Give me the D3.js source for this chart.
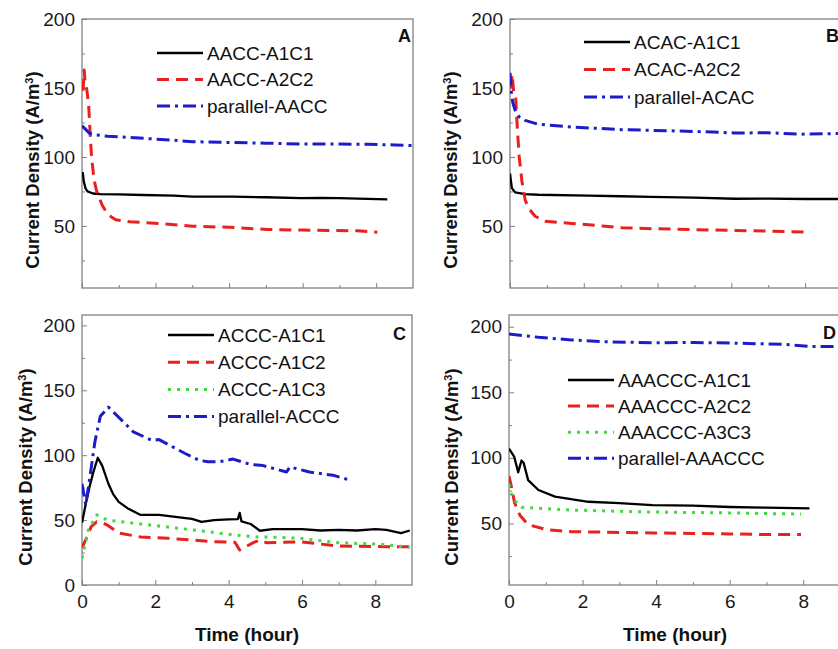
<!DOCTYPE html>
<html>
<head>
<meta charset="utf-8">
<script src="https://cdn.jsdelivr.net/npm/d3@7"></script>
<style>
  html, body { margin: 0; padding: 0; background: #fff; }
  svg { display: block; font-family: "Liberation Sans", Arial, sans-serif; }
</style>
</head>
<body>
<svg id="chart" width="838" height="649"></svg>
<script>
// ---------------- DATA (time in hours, current density in A/m^3) ----------------
const xTicksMajor = [0, 2, 4, 6, 8];
const xTicksMinor = [1, 3, 5, 7, 9];
const yTicksMajorTop = [50, 100, 150, 200];
const yTicksMajorC = [0, 50, 100, 150, 200];
const yTicksMinor = [25, 75, 125, 175];

// Panel A
const panelALabels = ["AACC-A1C1", "AACC-A2C2", "parallel-AACC"];
const aacc_A1C1 = [[0.02,89],[0.05,82],[0.1,77],[0.15,75],[0.3,73.5],[0.5,73],[1,72.8],[1.65,72.4],[2.5,72],[3,71.3],[4.1,71.2],[5,70.8],[5.95,70.1],[6.5,70.4],[7,70.1],[7.5,69.8],[8.3,69.3]];
const aacc_A2C2 = [[0.03,148],[0.06,163],[0.09,152],[0.13,149],[0.18,138],[0.22,118],[0.26,100],[0.33,83],[0.4,75],[0.47,70.5],[0.55,65],[0.65,60.5],[0.8,56.5],[0.92,54.5],[1.3,53],[2.1,51.8],[3,49.8],[4,49],[5.05,47.4],[6,47],[6.86,46.7],[7.5,46.5],[8.03,45.5]];
const aacc_par = [[0,122.5],[0.1,120],[0.2,117.2],[0.38,116],[0.7,115],[1.2,114.3],[2.37,112.3],[3,111.1],[4.13,110.4],[5,110],[5.95,109.4],[7,109.3],[7.76,109.2],[8.5,108.7],[9,108.2]];

// Panel B
const panelBLabels = ["ACAC-A1C1", "ACAC-A2C2", "parallel-ACAC"];
const acac_A1C1 = [[0,88],[0.05,77.4],[0.14,74.3],[0.41,73.1],[0.77,72.6],[2.12,71.9],[3,71.5],[3.83,71],[5,70.5],[6.09,69.7],[7,69.8],[8,69.5],[9,69.5]];
const acac_A2C2 = [[0.02,150],[0.06,160],[0.1,147],[0.15,145],[0.2,120],[0.25,100],[0.32,83],[0.41,69],[0.5,63],[0.68,57],[0.95,53.4],[1.67,51.8],[2.5,50],[3.03,48.7],[3.83,48],[5,47.3],[6.09,46.7],[7,46.3],[8.03,45.5]];
const acac_par = [[0,161],[0.02,155],[0.04,145],[0.08,139],[0.15,133],[0.25,129],[0.41,126.5],[0.77,123.7],[1.67,121.7],[3.03,119.8],[3.83,119.3],[5,118.5],[6.09,117.4],[7,117.5],[7.89,116.5],[8.89,117],[9,117]];

// Panel C
const panelCLabels = ["ACCC-A1C1", "ACCC-A1C2", "ACCC-A1C3", "parallel-ACCC"];
const accc_A1C1 = [[0,48],[0.1,62],[0.2,75],[0.3,86],[0.43,98],[0.55,92],[0.72,78],[0.85,70],[1.0,64],[1.25,59],[1.6,54],[2.1,54],[2.55,52.5],[3,51],[3.26,48.7],[3.6,50],[4,50.5],[4.25,50.8],[4.3,55.6],[4.35,49],[4.6,47],[4.85,41.8],[5.2,43],[6,43],[6.5,42],[7,42.5],[7.5,42],[8,43],[8.3,42.5],[8.7,40],[8.94,42]];
const accc_A1C2 = [[0,28.5],[0.15,38],[0.25,45],[0.4,48.7],[0.55,48],[0.7,46],[1,40],[1.6,37],[2.35,36],[3,34.6],[3.6,33.3],[4.17,33],[4.3,27],[4.5,30],[4.7,33],[4.85,34.6],[5.03,32.6],[5.94,33.3],[7,30],[8.3,29.5],[8.94,29.5]];
const accc_A1C3 = [[0,20.7],[0.17,42],[0.4,54],[0.7,50],[1.6,47],[2.55,44],[3.45,41],[4.17,38.5],[4.8,37],[5.03,37],[5.94,36],[7,32.5],[8.1,31.5],[8.94,29]];
const accc_par = [[0,78],[0.05,70],[0.1,62],[0.2,80],[0.35,110],[0.5,130],[0.72,137],[1.08,127],[1.4,118],[1.9,111.5],[2.1,112],[2.8,101.5],[3.2,96],[3.44,95],[3.76,95],[4.12,97],[4.58,93],[4.94,92],[5.58,87],[5.67,91],[6.2,87],[6.84,84.6],[7.3,80.8]];

// Panel D
const panelDLabels = ["AAACCC-A1C1", "AAACCC-A2C2", "AAACCC-A3C3", "parallel-AAACCC"];
const aaaccc_A1C1 = [[0,107],[0.14,101],[0.25,89],[0.34,98],[0.4,96],[0.52,83],[0.8,75.5],[1.25,70.4],[2.16,66.5],[3,65.5],[3.9,64],[5,63.5],[6,62.5],[7,62],[8.17,61.5]];
const aaaccc_A2C2 = [[0,86],[0.05,80],[0.15,66],[0.3,56],[0.52,49],[1.06,45],[1.7,43.7],[2.6,43.3],[3.9,42.7],[5,42.3],[6,42],[7,41.5],[7.94,41.5]];
const aaaccc_A3C3 = [[0,80],[0.1,69],[0.34,62.3],[0.8,61.5],[1.7,60.2],[3,59.2],[3.9,58.7],[5,58.3],[6,58],[7,57.5],[7.94,57.2]];
const aaaccc_par = [[0,194.5],[0.8,192],[1.7,190],[2.6,188.6],[3.9,187.8],[5,188],[5.68,187.8],[6.5,187.3],[7.5,186.6],[8.2,185],[9,185]];

// ---------------- STYLES ----------------
const styles = {
  black: { color: "#000000", width: 2.3, dash: null },
  red:   { color: "#e8211e", width: 3, dash: "12,7" },
  green: { color: "#3ddc3d", width: 3, dash: "3,6" },
  blue:  { color: "#1c1cc8", width: 3, dash: "13,5,3,5" }
};

const panels = [
  { id: "A", letter: "A", x0: 82, x1: 413, y0: 19, y1: 288, yDom: [5, 200], yMajor: yTicksMajorTop, xLabels: false,
    series: [[aacc_A1C1, "black"], [aacc_A2C2, "red"], [aacc_par, "blue"]], labels: panelALabels,
    legX: 157, legY: 53, legStep: 26.5, letterX: 398, letterY: 42, titleX: 32, titleY: 170 },
  { id: "B", letter: "B", x0: 510, x1: 842, y0: 19, y1: 288, yDom: [5, 200], yMajor: yTicksMajorTop, xLabels: false,
    series: [[acac_A1C1, "black"], [acac_A2C2, "red"], [acac_par, "blue"]], labels: panelBLabels,
    legX: 584, legY: 42, legStep: 27.5, letterX: 826, letterY: 42, titleX: 450, titleY: 170 },
  { id: "C", letter: "C", x0: 82, x1: 412, y0: 315, y1: 585, yDom: [0, 208], yMajor: yTicksMajorC, xLabels: true,
    series: [[accc_A1C1, "black"], [accc_A1C2, "red"], [accc_A1C3, "green"], [accc_par, "blue"]], labels: panelCLabels,
    legX: 168, legY: 335, legStep: 27.2, letterX: 393, letterY: 340, titleX: 25, titleY: 467, timeX: 247 },
  { id: "D", letter: "D", x0: 509, x1: 840, y0: 315, y1: 585, yDom: [3, 209], yMajor: yTicksMajorTop, xLabels: true,
    series: [[aaaccc_A1C1, "black"], [aaaccc_A2C2, "red"], [aaaccc_A3C3, "green"], [aaaccc_par, "blue"]], labels: panelDLabels,
    legX: 568, legY: 380, legStep: 26.1, letterX: 823, letterY: 339, titleX: 451, titleY: 467, timeX: 675 }
];

const svg = d3.select("#chart");
const defs = svg.append("defs");
const frameColor = "#808080";
const font = "19px";

panels.forEach(p => {
  const x = d3.scaleLinear().domain([0, 9]).range([p.x0, p.x1]);
  const y = d3.scaleLinear().domain(p.yDom).range([p.y1, p.y0]);
  const g = svg.append("g");

  defs.append("clipPath").attr("id", "clip" + p.id)
    .append("rect").attr("x", p.x0).attr("y", p.y0).attr("width", p.x1 - p.x0).attr("height", p.y1 - p.y0);

  // minor ticks
  const yMinorAxis = d3.axisLeft(y).tickValues(yTicksMinor).tickSize(-3).tickFormat("");
  g.append("g").attr("transform", `translate(${p.x0},0)`).call(yMinorAxis)
    .call(a => { a.select(".domain").remove(); a.selectAll("line").attr("stroke", frameColor); });
  const xMinorAxis = d3.axisBottom(x).tickValues(xTicksMinor.filter(v => v < 9)).tickSize(-3).tickFormat("");
  g.append("g").attr("transform", `translate(0,${p.y1})`).call(xMinorAxis)
    .call(a => { a.select(".domain").remove(); a.selectAll("line").attr("stroke", frameColor); });

  // major ticks
  const yAxis = d3.axisLeft(y).tickValues(p.yMajor).tickSize(-5).tickPadding(7).tickFormat(d3.format("d"));
  g.append("g").attr("transform", `translate(${p.x0},0)`).call(yAxis)
    .call(a => {
      a.select(".domain").remove();
      a.selectAll("line").attr("stroke", frameColor);
      a.selectAll("text").attr("font-size", font).attr("fill", "#1a1a1a")
        .attr("font-family", "Liberation Sans, Arial, sans-serif");
    });
  const xAxis = d3.axisBottom(x).tickValues(xTicksMajor).tickSize(-5).tickPadding(10)
    .tickFormat(p.xLabels ? d3.format("d") : "");
  g.append("g").attr("transform", `translate(0,${p.y1})`).call(xAxis)
    .call(a => {
      a.select(".domain").remove();
      a.selectAll("line").attr("stroke", frameColor);
      a.selectAll("text").attr("font-size", font).attr("fill", "#1a1a1a")
        .attr("font-family", "Liberation Sans, Arial, sans-serif");
    });

  // frame
  g.append("rect").attr("x", p.x0).attr("y", p.y0).attr("width", p.x1 - p.x0).attr("height", p.y1 - p.y0)
    .attr("fill", "none").attr("stroke", frameColor).attr("stroke-width", 1.3);

  // lines
  const line = d3.line().x(d => x(d[0])).y(d => y(d[1])).curve(d3.curveLinear);
  const lg = g.append("g").attr("clip-path", `url(#clip${p.id})`);
  p.series.forEach(([data, st]) => {
    const s = styles[st];
    lg.append("path").datum(data).attr("d", line)
      .attr("fill", "none").attr("stroke", s.color).attr("stroke-width", s.width)
      .attr("stroke-linejoin", "round")
      .attr("stroke-dasharray", s.dash);
  });

  // legend
  p.series.forEach(([data, st], i) => {
    const s = styles[st];
    const ly = p.legY + i * p.legStep;
    g.append("line").attr("x1", p.legX).attr("x2", p.legX + 46).attr("y1", ly).attr("y2", ly)
      .attr("stroke", s.color).attr("stroke-width", s.width).attr("stroke-dasharray", s.dash);
    g.append("text").attr("x", p.legX + 50).attr("y", ly).attr("dy", "0.36em")
      .attr("font-size", font).attr("fill", "#111").text(p.labels[i]);
  });

  // panel letter
  g.append("text").attr("x", p.letterX).attr("y", p.letterY).attr("font-size", "18px")
    .attr("font-weight", "bold").attr("fill", "#111").text(p.letter);

  // y title
  const t = g.append("text").attr("transform", `translate(${p.titleX},${p.titleY}) rotate(-90)`)
    .attr("text-anchor", "middle").attr("dy", "0.36em")
    .attr("font-size", "18.5px").attr("font-weight", "bold").attr("fill", "#111");
  t.append("tspan").text("Current Density (A/m");
  t.append("tspan").attr("baseline-shift", "super").attr("font-size", "11px").text("3");
  t.append("tspan").text(")");

  // x title
  if (p.xLabels) {
    g.append("text").attr("x", p.timeX).attr("y", 641)
      .attr("text-anchor", "middle").attr("font-size", "19px").attr("font-weight", "bold")
      .attr("fill", "#111").text("Time (hour)");
  }
});
</script>
</body>
</html>
